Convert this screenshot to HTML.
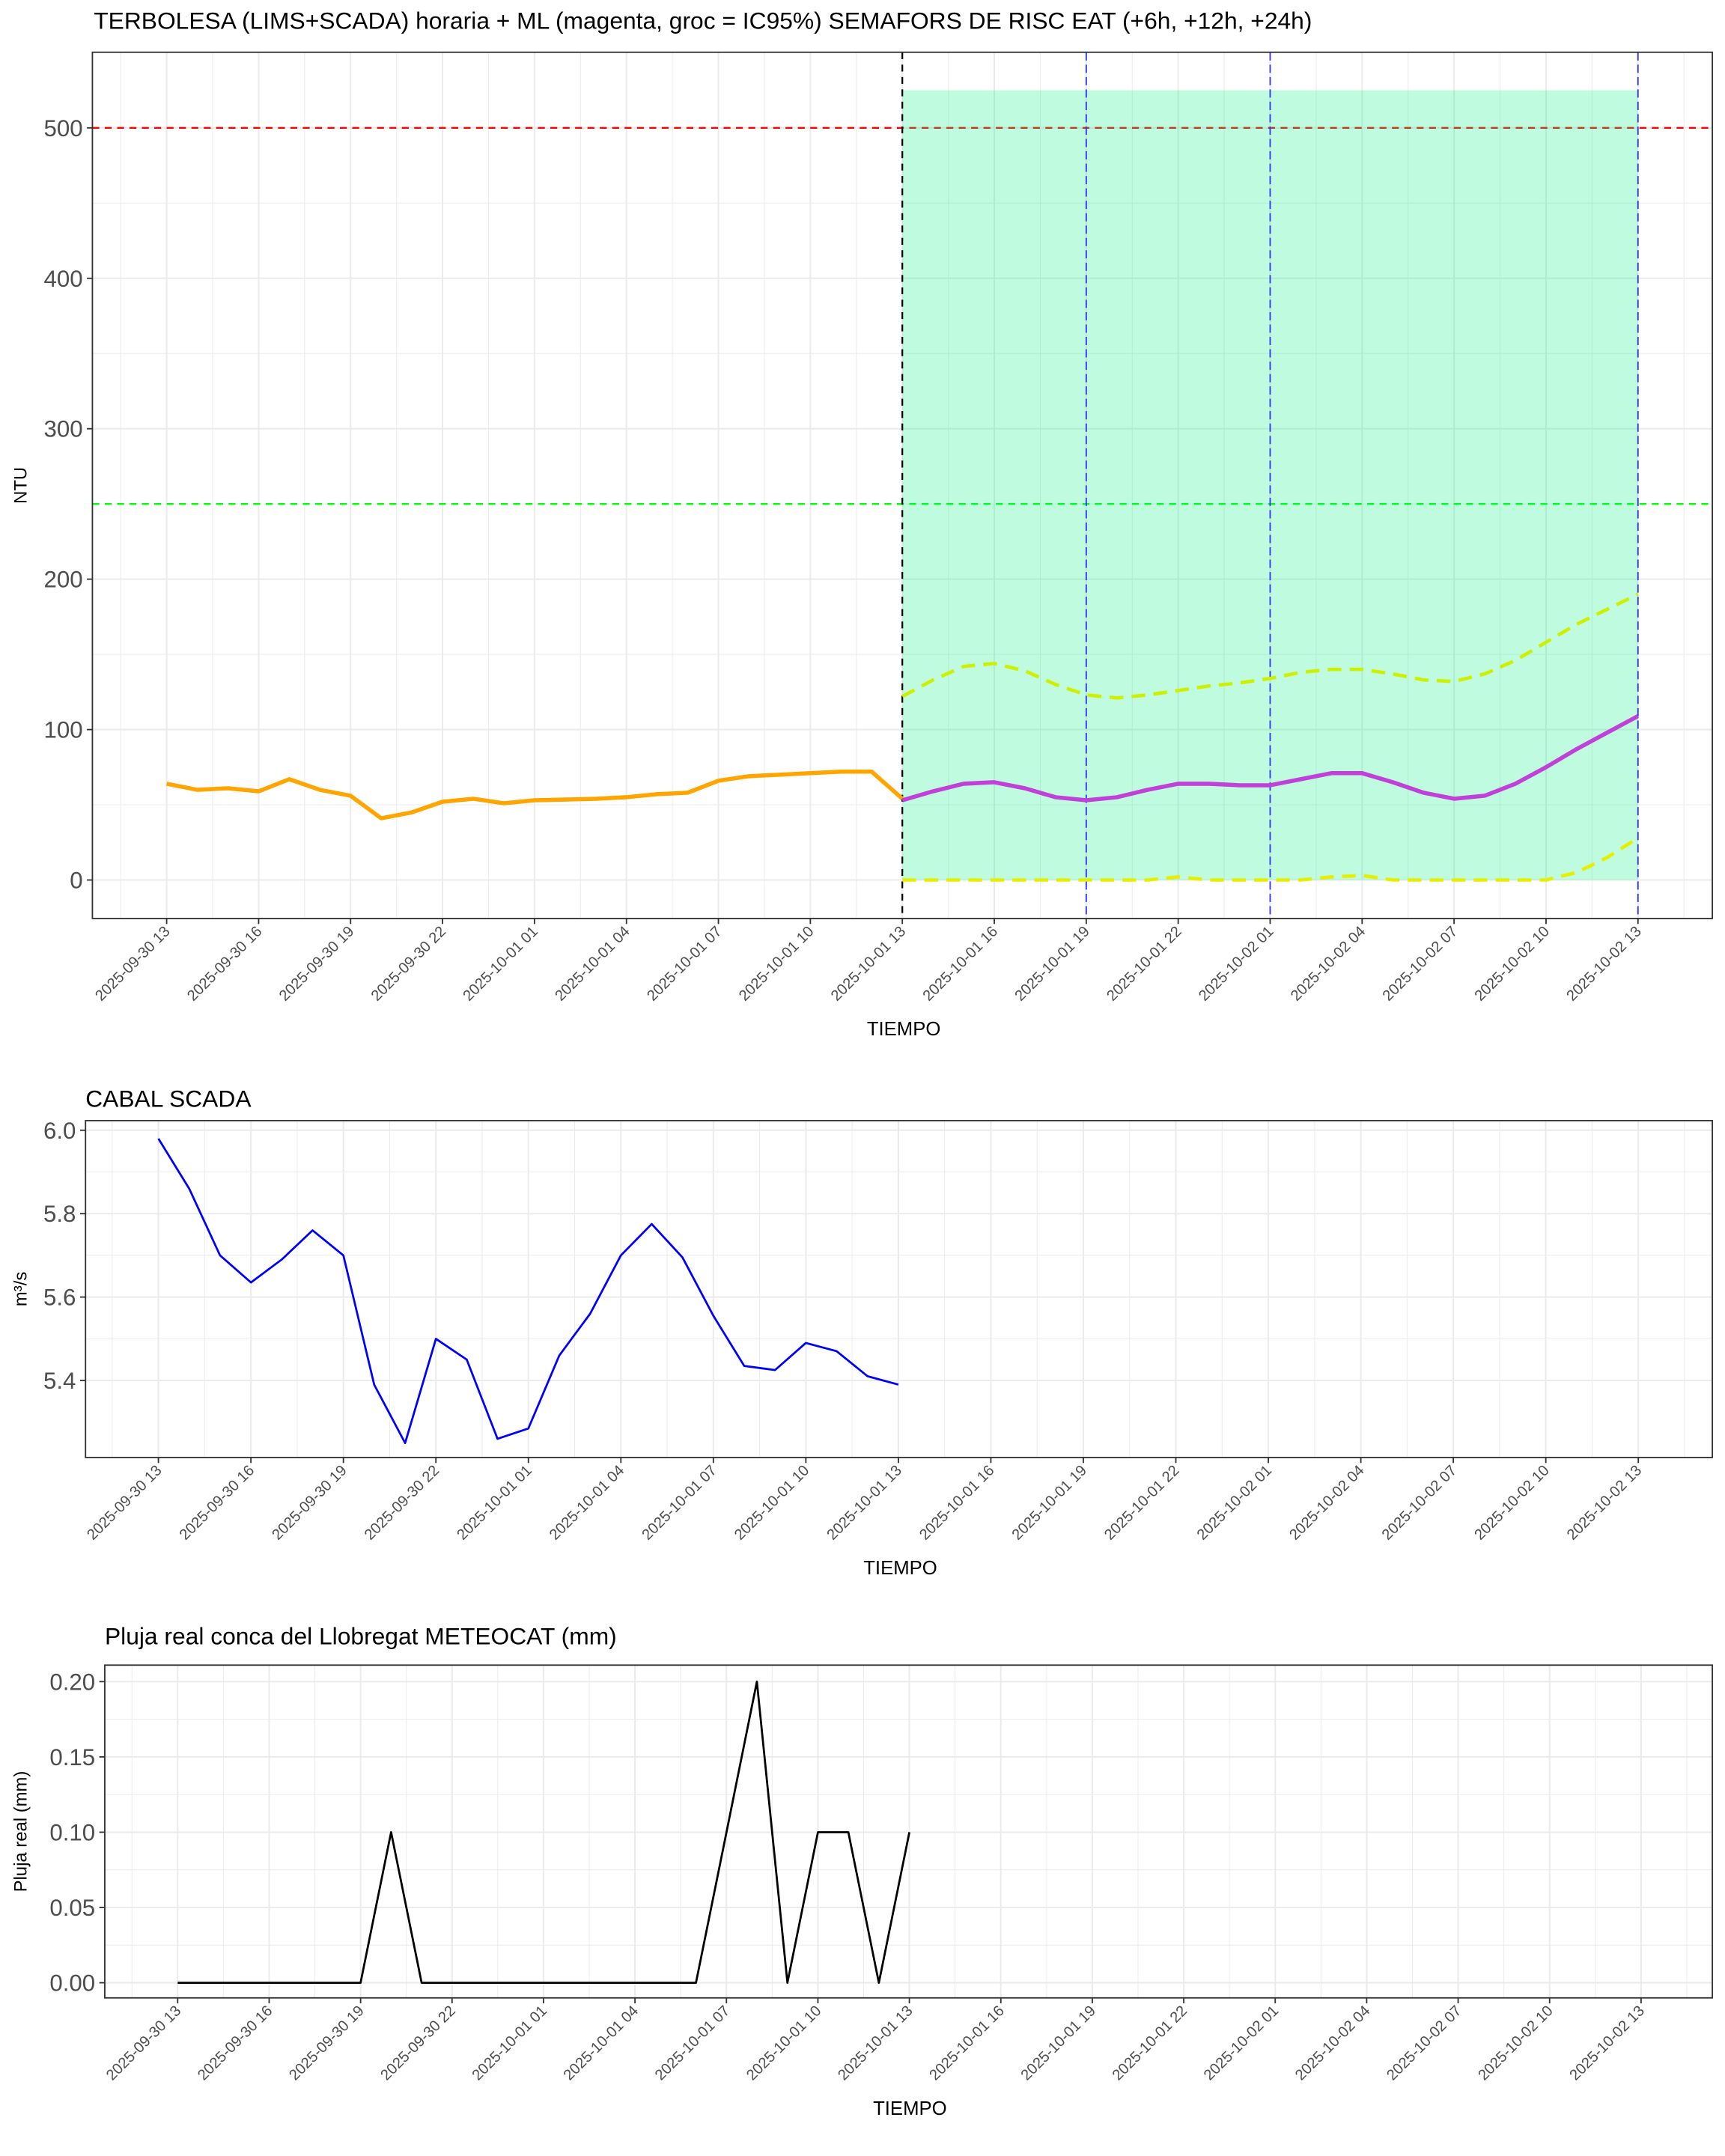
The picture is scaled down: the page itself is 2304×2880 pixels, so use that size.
<!DOCTYPE html>
<html><head><meta charset="utf-8"><style>html,body{margin:0;padding:0;background:#fff}svg{display:block}</style></head>
<body>
<svg id="s" xmlns="http://www.w3.org/2000/svg" width="2304" height="2880" viewBox="0 0 1254 1568" font-family="Liberation Sans, sans-serif"></svg>
<script>
const S=document.getElementById('s');let h='';
const labels=['2025-09-30 13','2025-09-30 16','2025-09-30 19','2025-09-30 22','2025-10-01 01','2025-10-01 04','2025-10-01 07','2025-10-01 10','2025-10-01 13','2025-10-01 16','2025-10-01 19','2025-10-01 22','2025-10-02 01','2025-10-02 04','2025-10-02 07','2025-10-02 10','2025-10-02 13'];
function panel(p){
 const X=t=>p.x0+t*p.dx, Y=v=>p.y0-v*p.dy;
 h+=`<rect x="${p.L}" y="${p.T}" width="${p.R-p.L}" height="${p.B-p.T}" fill="#fff"/>`;
 for(let v=p.ymin;v<=p.ymax+1e-9;v+=p.ystep/2){const y=Y(v);if(y<p.T||y>p.B)continue;const maj=Math.abs(Math.round(v/p.ystep)*p.ystep-v)<1e-9;h+=`<line x1="${p.L}" x2="${p.R}" y1="${y}" y2="${y}" stroke="#ebebeb" stroke-width="${maj?1.1:0.55}"/>`;}
 for(let t=-1.5;t<=49.5;t+=1.5){const x=X(t);if(x<p.L||x>p.R)continue;const maj=(t%3===0);h+=`<line x1="${x}" x2="${x}" y1="${p.T}" y2="${p.B}" stroke="#ebebeb" stroke-width="${maj?1.1:0.55}"/>`;}
 p.extra&&p.extra(X,Y);
 p.series.forEach(s=>{h+=`<polyline fill="none" stroke="${s.c}" stroke-width="${s.w}" ${s.d?`stroke-dasharray="${s.d}"`:''} stroke-linejoin="round" points="${s.v.map((v,i)=>X(s.t0+i).toFixed(1)+','+Y(v).toFixed(1)).join(' ')}"/>`;});
 h+=`<rect x="${p.L}" y="${p.T}" width="${p.R-p.L}" height="${p.B-p.T}" fill="none" stroke="#333" stroke-width="1"/>`;
 for(let v=p.ymin;v<=p.ymax+1e-9;v+=p.ystep){const y=Y(v);h+=`<line x1="${p.L-4}" x2="${p.L}" y1="${y}" y2="${y}" stroke="#333"/><text x="${p.L-7}" y="${y+6}" font-size="17" fill="#4d4d4d" text-anchor="end">${p.fmt(v)}</text>`;}
 labels.forEach((l,i)=>{const x=X(i*3);h+=`<line x1="${x}" x2="${x}" y1="${p.B}" y2="${p.B+4}" stroke="#333"/><text transform="translate(${x+3},${p.B+10}) rotate(-45)" font-size="11" fill="#4d4d4d" text-anchor="end">${l}</text>`;});
 h+=`<text x="${(p.L+p.R)/2+1}" y="${p.B+85}" font-size="14" text-anchor="middle">TIEMPO</text>`;
 h+=`<text transform="translate(19,${(p.T+p.B)/2}) rotate(-90)" font-size="13" text-anchor="middle">${p.yt}</text>`;
 h+=`<text x="${p.tx}" y="${p.ty}" font-size="17.3">${p.title}</text>`;
}
panel({L:67,R:1245,T:38,B:668,x0:121,dx:22.29,y0:640,dy:1.094,ymin:0,ymax:500,ystep:100,fmt:v=>v,yt:'NTU',tx:68,ty:21,
 title:'TERBOLESA (LIMS+SCADA) horaria + ML (magenta, groc = IC95%) SEMAFORS DE RISC EAT (+6h, +12h, +24h)',
 extra:(X,Y)=>{
  h+=`<line x1="67" x2="1245" y1="${Y(500)}" y2="${Y(500)}" stroke="#f00" stroke-width="1.3" stroke-dasharray="5,4"/>`;
  h+=`<line x1="67" x2="1245" y1="${Y(250)}" y2="${Y(250)}" stroke="#0f0" stroke-width="1.3" stroke-dasharray="5,4"/>`;
  h+=`<rect x="${X(24)}" y="${Y(525)}" width="${X(48)-X(24)}" height="${Y(0)-Y(525)}" fill="#00f080" fill-opacity="0.25"/>`;
  h+=`<line x1="${X(24)}" x2="${X(24)}" y1="38" y2="668" stroke="#000" stroke-width="1.2" stroke-dasharray="5,4"/>`;
  [30,36,48].forEach(t=>h+=`<line x1="${X(t)}" x2="${X(t)}" y1="38" y2="668" stroke="#33f" stroke-width="1" stroke-dasharray="6,3"/>`);
 },
 series:[
  {c:'#ffa500',w:3,t0:0,v:[64,60,61,59,67,60,56,41,45,52,54,51,53,53.5,54,55,57,58,66,69,70,71,72,72,54]},
  {c:'#cdf000',w:2.5,d:'10,6',t0:24,v:[122,133,142,144,139,130,123,121,123,126,129,131,134,138,140,140,137,133,132,137,146,158,170,180,190]},
  {c:'#e5f000',w:2.5,d:'10,6',t0:24,v:[0,0,0,0,0,0,0,0,0,2,0,0,0,0,2,3,0,0,0,0,0,0,5,15,28]},
  {c:'#c040d8',w:3,t0:24,v:[53,59,64,65,61,55,53,55,60,64,64,63,63,67,71,71,65,58,54,56,64,75,87,98,109]}
 ]});
panel({L:62,R:1245,T:815,B:1060,x0:115,dx:22.42,y0:822+6.0*303.3,dy:303.3,ymin:5.4,ymax:6.0,ystep:0.2,fmt:v=>v.toFixed(1),yt:'m³/s',tx:62,ty:805,title:'CABAL SCADA',
 series:[{c:'#00f',w:1.5,t0:0,v:[5.98,5.86,5.70,5.635,5.69,5.76,5.70,5.39,5.25,5.50,5.45,5.26,5.285,5.46,5.56,5.70,5.775,5.695,5.555,5.435,5.425,5.49,5.47,5.41,5.39]}]});
panel({L:76,R:1245,T:1211,B:1453,x0:129,dx:22.17,y0:1442,dy:1095,ymin:0,ymax:0.2,ystep:0.05,fmt:v=>v.toFixed(2),yt:'Pluja real (mm)',tx:76,ty:1196,title:'Pluja real conca del Llobregat METEOCAT (mm)',
 series:[{c:'#000',w:1.5,t0:0,v:[0,0,0,0,0,0,0,0.1,0,0,0,0,0,0,0,0,0,0,0.1,0.2,0,0.1,0.1,0,0.1]}]});
S.innerHTML=h;
</script>
</body></html>
